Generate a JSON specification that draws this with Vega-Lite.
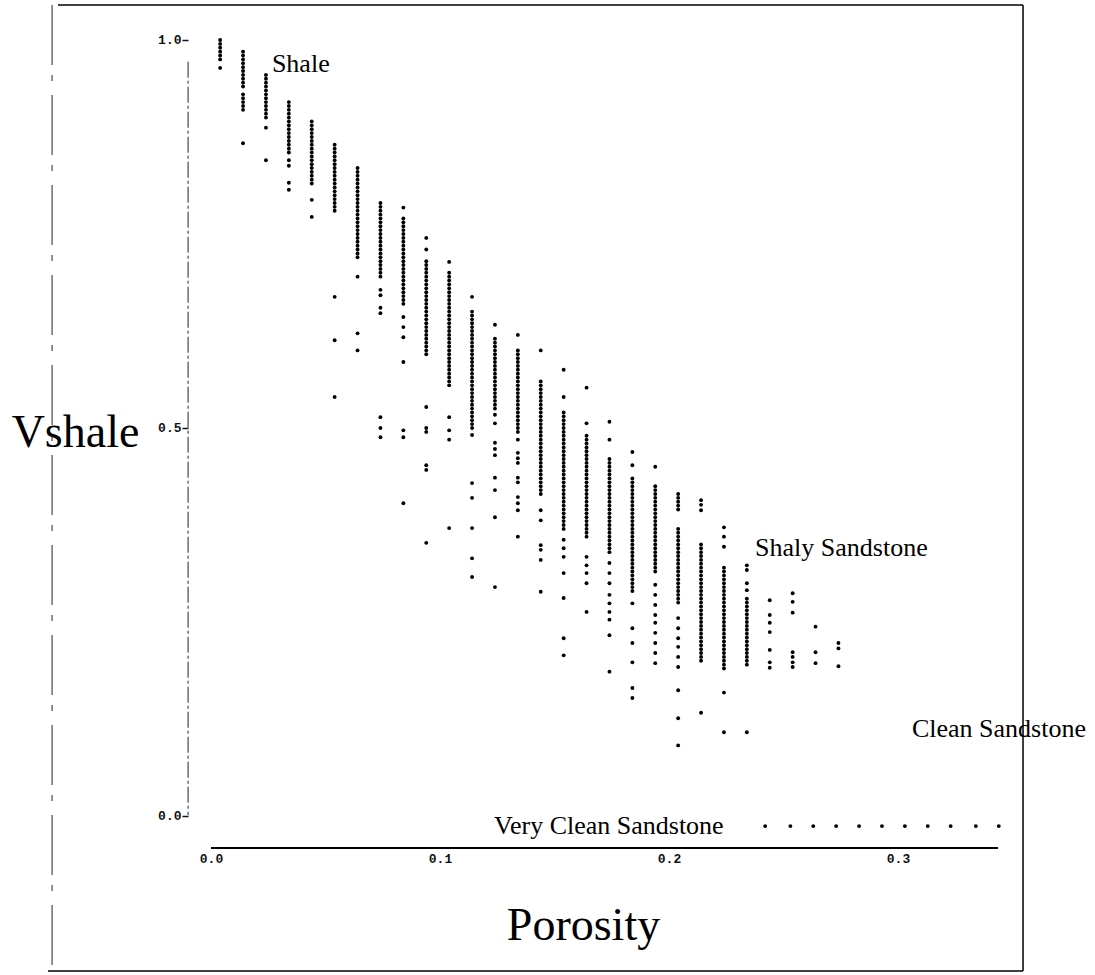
{
  "$schema": "https://vega.github.io/schema/vega-lite/v6.json",
  "width": 907,
  "height": 848,
  "autosize": {"type": "none"},
  "padding": {"left": 188, "top": 0, "right": 0, "bottom": 127},
  "background": "white",
  "config": {"view": {"stroke": null}},
  "data": {"values": [
    {"porosity":0.004,"vshale":1},{"porosity":0.004,"vshale":0.995},{"porosity":0.004,"vshale":0.99},{"porosity":0.004,"vshale":0.985},{"porosity":0.004,"vshale":0.98},{"porosity":0.004,"vshale":0.975},{"porosity":0.004,"vshale":0.964},
    {"porosity":0.014,"vshale":0.985},{"porosity":0.014,"vshale":0.98},{"porosity":0.014,"vshale":0.975},{"porosity":0.014,"vshale":0.97},{"porosity":0.014,"vshale":0.965},{"porosity":0.014,"vshale":0.96},{"porosity":0.014,"vshale":0.955},{"porosity":0.014,"vshale":0.95},{"porosity":0.014,"vshale":0.945},{"porosity":0.014,"vshale":0.94},{"porosity":0.014,"vshale":0.93},{"porosity":0.014,"vshale":0.925},{"porosity":0.014,"vshale":0.92},{"porosity":0.014,"vshale":0.915},{"porosity":0.014,"vshale":0.91},{"porosity":0.014,"vshale":0.867},
    {"porosity":0.024,"vshale":0.955},{"porosity":0.024,"vshale":0.95},{"porosity":0.024,"vshale":0.945},{"porosity":0.024,"vshale":0.94},{"porosity":0.024,"vshale":0.935},{"porosity":0.024,"vshale":0.93},{"porosity":0.024,"vshale":0.925},{"porosity":0.024,"vshale":0.92},{"porosity":0.024,"vshale":0.915},{"porosity":0.024,"vshale":0.91},{"porosity":0.024,"vshale":0.905},{"porosity":0.024,"vshale":0.9},{"porosity":0.024,"vshale":0.887},{"porosity":0.024,"vshale":0.845},
    {"porosity":0.034,"vshale":0.92},{"porosity":0.034,"vshale":0.915},{"porosity":0.034,"vshale":0.91},{"porosity":0.034,"vshale":0.905},{"porosity":0.034,"vshale":0.9},{"porosity":0.034,"vshale":0.895},{"porosity":0.034,"vshale":0.89},{"porosity":0.034,"vshale":0.885},{"porosity":0.034,"vshale":0.88},{"porosity":0.034,"vshale":0.875},{"porosity":0.034,"vshale":0.87},{"porosity":0.034,"vshale":0.865},{"porosity":0.034,"vshale":0.86},{"porosity":0.034,"vshale":0.855},{"porosity":0.034,"vshale":0.845},{"porosity":0.034,"vshale":0.838},{"porosity":0.034,"vshale":0.816},{"porosity":0.034,"vshale":0.807},
    {"porosity":0.044,"vshale":0.895},{"porosity":0.044,"vshale":0.89},{"porosity":0.044,"vshale":0.885},{"porosity":0.044,"vshale":0.88},{"porosity":0.044,"vshale":0.875},{"porosity":0.044,"vshale":0.87},{"porosity":0.044,"vshale":0.865},{"porosity":0.044,"vshale":0.86},{"porosity":0.044,"vshale":0.855},{"porosity":0.044,"vshale":0.85},{"porosity":0.044,"vshale":0.845},{"porosity":0.044,"vshale":0.84},{"porosity":0.044,"vshale":0.835},{"porosity":0.044,"vshale":0.83},{"porosity":0.044,"vshale":0.825},{"porosity":0.044,"vshale":0.82},{"porosity":0.044,"vshale":0.815},{"porosity":0.044,"vshale":0.794},{"porosity":0.044,"vshale":0.772},
    {"porosity":0.054,"vshale":0.865},{"porosity":0.054,"vshale":0.86},{"porosity":0.054,"vshale":0.855},{"porosity":0.054,"vshale":0.85},{"porosity":0.054,"vshale":0.845},{"porosity":0.054,"vshale":0.84},{"porosity":0.054,"vshale":0.835},{"porosity":0.054,"vshale":0.83},{"porosity":0.054,"vshale":0.825},{"porosity":0.054,"vshale":0.82},{"porosity":0.054,"vshale":0.815},{"porosity":0.054,"vshale":0.81},{"porosity":0.054,"vshale":0.805},{"porosity":0.054,"vshale":0.8},{"porosity":0.054,"vshale":0.795},{"porosity":0.054,"vshale":0.79},{"porosity":0.054,"vshale":0.785},{"porosity":0.054,"vshale":0.78},{"porosity":0.054,"vshale":0.669},{"porosity":0.054,"vshale":0.613},{"porosity":0.054,"vshale":0.54},
    {"porosity":0.064,"vshale":0.835},{"porosity":0.064,"vshale":0.83},{"porosity":0.064,"vshale":0.825},{"porosity":0.064,"vshale":0.82},{"porosity":0.064,"vshale":0.815},{"porosity":0.064,"vshale":0.81},{"porosity":0.064,"vshale":0.805},{"porosity":0.064,"vshale":0.8},{"porosity":0.064,"vshale":0.795},{"porosity":0.064,"vshale":0.79},{"porosity":0.064,"vshale":0.785},{"porosity":0.064,"vshale":0.78},{"porosity":0.064,"vshale":0.775},{"porosity":0.064,"vshale":0.77},{"porosity":0.064,"vshale":0.765},{"porosity":0.064,"vshale":0.76},{"porosity":0.064,"vshale":0.755},{"porosity":0.064,"vshale":0.75},{"porosity":0.064,"vshale":0.745},{"porosity":0.064,"vshale":0.74},{"porosity":0.064,"vshale":0.735},{"porosity":0.064,"vshale":0.73},{"porosity":0.064,"vshale":0.725},{"porosity":0.064,"vshale":0.72},{"porosity":0.064,"vshale":0.695},{"porosity":0.064,"vshale":0.622},{"porosity":0.064,"vshale":0.6},
    {"porosity":0.074,"vshale":0.79},{"porosity":0.074,"vshale":0.785},{"porosity":0.074,"vshale":0.78},{"porosity":0.074,"vshale":0.775},{"porosity":0.074,"vshale":0.77},{"porosity":0.074,"vshale":0.765},{"porosity":0.074,"vshale":0.76},{"porosity":0.074,"vshale":0.755},{"porosity":0.074,"vshale":0.75},{"porosity":0.074,"vshale":0.745},{"porosity":0.074,"vshale":0.74},{"porosity":0.074,"vshale":0.735},{"porosity":0.074,"vshale":0.73},{"porosity":0.074,"vshale":0.725},{"porosity":0.074,"vshale":0.72},{"porosity":0.074,"vshale":0.715},{"porosity":0.074,"vshale":0.71},{"porosity":0.074,"vshale":0.705},{"porosity":0.074,"vshale":0.7},{"porosity":0.074,"vshale":0.695},{"porosity":0.074,"vshale":0.678},{"porosity":0.074,"vshale":0.671},{"porosity":0.074,"vshale":0.655},{"porosity":0.074,"vshale":0.648},{"porosity":0.074,"vshale":0.514},{"porosity":0.074,"vshale":0.5},{"porosity":0.074,"vshale":0.488},
    {"porosity":0.084,"vshale":0.784},{"porosity":0.084,"vshale":0.77},{"porosity":0.084,"vshale":0.765},{"porosity":0.084,"vshale":0.76},{"porosity":0.084,"vshale":0.755},{"porosity":0.084,"vshale":0.75},{"porosity":0.084,"vshale":0.745},{"porosity":0.084,"vshale":0.74},{"porosity":0.084,"vshale":0.735},{"porosity":0.084,"vshale":0.73},{"porosity":0.084,"vshale":0.725},{"porosity":0.084,"vshale":0.72},{"porosity":0.084,"vshale":0.715},{"porosity":0.084,"vshale":0.71},{"porosity":0.084,"vshale":0.705},{"porosity":0.084,"vshale":0.7},{"porosity":0.084,"vshale":0.695},{"porosity":0.084,"vshale":0.69},{"porosity":0.084,"vshale":0.685},{"porosity":0.084,"vshale":0.68},{"porosity":0.084,"vshale":0.675},{"porosity":0.084,"vshale":0.67},{"porosity":0.084,"vshale":0.665},{"porosity":0.084,"vshale":0.66},{"porosity":0.084,"vshale":0.643},{"porosity":0.084,"vshale":0.63},{"porosity":0.084,"vshale":0.617},{"porosity":0.084,"vshale":0.585},{"porosity":0.084,"vshale":0.497},{"porosity":0.084,"vshale":0.488},{"porosity":0.084,"vshale":0.403},
    {"porosity":0.094,"vshale":0.745},{"porosity":0.094,"vshale":0.73},{"porosity":0.094,"vshale":0.715},{"porosity":0.094,"vshale":0.71},{"porosity":0.094,"vshale":0.705},{"porosity":0.094,"vshale":0.7},{"porosity":0.094,"vshale":0.695},{"porosity":0.094,"vshale":0.69},{"porosity":0.094,"vshale":0.685},{"porosity":0.094,"vshale":0.68},{"porosity":0.094,"vshale":0.675},{"porosity":0.094,"vshale":0.67},{"porosity":0.094,"vshale":0.665},{"porosity":0.094,"vshale":0.66},{"porosity":0.094,"vshale":0.655},{"porosity":0.094,"vshale":0.65},{"porosity":0.094,"vshale":0.645},{"porosity":0.094,"vshale":0.64},{"porosity":0.094,"vshale":0.635},{"porosity":0.094,"vshale":0.63},{"porosity":0.094,"vshale":0.625},{"porosity":0.094,"vshale":0.62},{"porosity":0.094,"vshale":0.615},{"porosity":0.094,"vshale":0.61},{"porosity":0.094,"vshale":0.605},{"porosity":0.094,"vshale":0.6},{"porosity":0.094,"vshale":0.595},{"porosity":0.094,"vshale":0.527},{"porosity":0.094,"vshale":0.5},{"porosity":0.094,"vshale":0.495},{"porosity":0.094,"vshale":0.452},{"porosity":0.094,"vshale":0.446},{"porosity":0.094,"vshale":0.352},
    {"porosity":0.104,"vshale":0.714},{"porosity":0.104,"vshale":0.7},{"porosity":0.104,"vshale":0.695},{"porosity":0.104,"vshale":0.69},{"porosity":0.104,"vshale":0.685},{"porosity":0.104,"vshale":0.68},{"porosity":0.104,"vshale":0.675},{"porosity":0.104,"vshale":0.67},{"porosity":0.104,"vshale":0.665},{"porosity":0.104,"vshale":0.66},{"porosity":0.104,"vshale":0.655},{"porosity":0.104,"vshale":0.65},{"porosity":0.104,"vshale":0.645},{"porosity":0.104,"vshale":0.64},{"porosity":0.104,"vshale":0.635},{"porosity":0.104,"vshale":0.63},{"porosity":0.104,"vshale":0.625},{"porosity":0.104,"vshale":0.62},{"porosity":0.104,"vshale":0.615},{"porosity":0.104,"vshale":0.61},{"porosity":0.104,"vshale":0.605},{"porosity":0.104,"vshale":0.6},{"porosity":0.104,"vshale":0.595},{"porosity":0.104,"vshale":0.59},{"porosity":0.104,"vshale":0.585},{"porosity":0.104,"vshale":0.58},{"porosity":0.104,"vshale":0.575},{"porosity":0.104,"vshale":0.57},{"porosity":0.104,"vshale":0.565},{"porosity":0.104,"vshale":0.56},{"porosity":0.104,"vshale":0.555},{"porosity":0.104,"vshale":0.514},{"porosity":0.104,"vshale":0.497},{"porosity":0.104,"vshale":0.485},{"porosity":0.104,"vshale":0.371},
    {"porosity":0.114,"vshale":0.669},{"porosity":0.114,"vshale":0.65},{"porosity":0.114,"vshale":0.645},{"porosity":0.114,"vshale":0.64},{"porosity":0.114,"vshale":0.635},{"porosity":0.114,"vshale":0.63},{"porosity":0.114,"vshale":0.625},{"porosity":0.114,"vshale":0.62},{"porosity":0.114,"vshale":0.615},{"porosity":0.114,"vshale":0.61},{"porosity":0.114,"vshale":0.605},{"porosity":0.114,"vshale":0.6},{"porosity":0.114,"vshale":0.595},{"porosity":0.114,"vshale":0.59},{"porosity":0.114,"vshale":0.585},{"porosity":0.114,"vshale":0.58},{"porosity":0.114,"vshale":0.575},{"porosity":0.114,"vshale":0.57},{"porosity":0.114,"vshale":0.565},{"porosity":0.114,"vshale":0.56},{"porosity":0.114,"vshale":0.555},{"porosity":0.114,"vshale":0.55},{"porosity":0.114,"vshale":0.545},{"porosity":0.114,"vshale":0.54},{"porosity":0.114,"vshale":0.535},{"porosity":0.114,"vshale":0.53},{"porosity":0.114,"vshale":0.525},{"porosity":0.114,"vshale":0.52},{"porosity":0.114,"vshale":0.515},{"porosity":0.114,"vshale":0.51},{"porosity":0.114,"vshale":0.505},{"porosity":0.114,"vshale":0.5},{"porosity":0.114,"vshale":0.491},{"porosity":0.114,"vshale":0.429},{"porosity":0.114,"vshale":0.41},{"porosity":0.114,"vshale":0.371},{"porosity":0.114,"vshale":0.332},{"porosity":0.114,"vshale":0.308},
    {"porosity":0.124,"vshale":0.633},{"porosity":0.124,"vshale":0.615},{"porosity":0.124,"vshale":0.61},{"porosity":0.124,"vshale":0.605},{"porosity":0.124,"vshale":0.6},{"porosity":0.124,"vshale":0.595},{"porosity":0.124,"vshale":0.59},{"porosity":0.124,"vshale":0.585},{"porosity":0.124,"vshale":0.58},{"porosity":0.124,"vshale":0.575},{"porosity":0.124,"vshale":0.57},{"porosity":0.124,"vshale":0.565},{"porosity":0.124,"vshale":0.56},{"porosity":0.124,"vshale":0.555},{"porosity":0.124,"vshale":0.55},{"porosity":0.124,"vshale":0.545},{"porosity":0.124,"vshale":0.54},{"porosity":0.124,"vshale":0.535},{"porosity":0.124,"vshale":0.53},{"porosity":0.124,"vshale":0.525},{"porosity":0.124,"vshale":0.517},{"porosity":0.124,"vshale":0.506},{"porosity":0.124,"vshale":0.481},{"porosity":0.124,"vshale":0.473},{"porosity":0.124,"vshale":0.465},{"porosity":0.124,"vshale":0.436},{"porosity":0.124,"vshale":0.42},{"porosity":0.124,"vshale":0.385},{"porosity":0.124,"vshale":0.295},
    {"porosity":0.134,"vshale":0.62},{"porosity":0.134,"vshale":0.6},{"porosity":0.134,"vshale":0.595},{"porosity":0.134,"vshale":0.59},{"porosity":0.134,"vshale":0.585},{"porosity":0.134,"vshale":0.58},{"porosity":0.134,"vshale":0.575},{"porosity":0.134,"vshale":0.57},{"porosity":0.134,"vshale":0.565},{"porosity":0.134,"vshale":0.56},{"porosity":0.134,"vshale":0.555},{"porosity":0.134,"vshale":0.55},{"porosity":0.134,"vshale":0.545},{"porosity":0.134,"vshale":0.54},{"porosity":0.134,"vshale":0.535},{"porosity":0.134,"vshale":0.53},{"porosity":0.134,"vshale":0.525},{"porosity":0.134,"vshale":0.52},{"porosity":0.134,"vshale":0.515},{"porosity":0.134,"vshale":0.51},{"porosity":0.134,"vshale":0.505},{"porosity":0.134,"vshale":0.5},{"porosity":0.134,"vshale":0.495},{"porosity":0.134,"vshale":0.485},{"porosity":0.134,"vshale":0.468},{"porosity":0.134,"vshale":0.461},{"porosity":0.134,"vshale":0.455},{"porosity":0.134,"vshale":0.436},{"porosity":0.134,"vshale":0.43},{"porosity":0.134,"vshale":0.411},{"porosity":0.134,"vshale":0.403},{"porosity":0.134,"vshale":0.394},{"porosity":0.134,"vshale":0.36},
    {"porosity":0.144,"vshale":0.6},{"porosity":0.144,"vshale":0.56},{"porosity":0.144,"vshale":0.555},{"porosity":0.144,"vshale":0.55},{"porosity":0.144,"vshale":0.545},{"porosity":0.144,"vshale":0.54},{"porosity":0.144,"vshale":0.535},{"porosity":0.144,"vshale":0.53},{"porosity":0.144,"vshale":0.525},{"porosity":0.144,"vshale":0.52},{"porosity":0.144,"vshale":0.515},{"porosity":0.144,"vshale":0.51},{"porosity":0.144,"vshale":0.505},{"porosity":0.144,"vshale":0.5},{"porosity":0.144,"vshale":0.495},{"porosity":0.144,"vshale":0.49},{"porosity":0.144,"vshale":0.485},{"porosity":0.144,"vshale":0.48},{"porosity":0.144,"vshale":0.475},{"porosity":0.144,"vshale":0.47},{"porosity":0.144,"vshale":0.465},{"porosity":0.144,"vshale":0.46},{"porosity":0.144,"vshale":0.455},{"porosity":0.144,"vshale":0.45},{"porosity":0.144,"vshale":0.445},{"porosity":0.144,"vshale":0.44},{"porosity":0.144,"vshale":0.435},{"porosity":0.144,"vshale":0.43},{"porosity":0.144,"vshale":0.425},{"porosity":0.144,"vshale":0.42},{"porosity":0.144,"vshale":0.415},{"porosity":0.144,"vshale":0.394},{"porosity":0.144,"vshale":0.381},{"porosity":0.144,"vshale":0.349},{"porosity":0.144,"vshale":0.343},{"porosity":0.144,"vshale":0.33},{"porosity":0.144,"vshale":0.289},
    {"porosity":0.154,"vshale":0.575},{"porosity":0.154,"vshale":0.54},{"porosity":0.154,"vshale":0.52},{"porosity":0.154,"vshale":0.515},{"porosity":0.154,"vshale":0.51},{"porosity":0.154,"vshale":0.505},{"porosity":0.154,"vshale":0.5},{"porosity":0.154,"vshale":0.495},{"porosity":0.154,"vshale":0.49},{"porosity":0.154,"vshale":0.485},{"porosity":0.154,"vshale":0.48},{"porosity":0.154,"vshale":0.475},{"porosity":0.154,"vshale":0.47},{"porosity":0.154,"vshale":0.465},{"porosity":0.154,"vshale":0.46},{"porosity":0.154,"vshale":0.455},{"porosity":0.154,"vshale":0.45},{"porosity":0.154,"vshale":0.445},{"porosity":0.154,"vshale":0.44},{"porosity":0.154,"vshale":0.435},{"porosity":0.154,"vshale":0.43},{"porosity":0.154,"vshale":0.425},{"porosity":0.154,"vshale":0.42},{"porosity":0.154,"vshale":0.415},{"porosity":0.154,"vshale":0.41},{"porosity":0.154,"vshale":0.405},{"porosity":0.154,"vshale":0.4},{"porosity":0.154,"vshale":0.395},{"porosity":0.154,"vshale":0.39},{"porosity":0.154,"vshale":0.385},{"porosity":0.154,"vshale":0.38},{"porosity":0.154,"vshale":0.375},{"porosity":0.154,"vshale":0.37},{"porosity":0.154,"vshale":0.356},{"porosity":0.154,"vshale":0.345},{"porosity":0.154,"vshale":0.334},{"porosity":0.154,"vshale":0.313},{"porosity":0.154,"vshale":0.281},{"porosity":0.154,"vshale":0.229},{"porosity":0.154,"vshale":0.207},
    {"porosity":0.164,"vshale":0.552},{"porosity":0.164,"vshale":0.506},{"porosity":0.164,"vshale":0.49},{"porosity":0.164,"vshale":0.485},{"porosity":0.164,"vshale":0.48},{"porosity":0.164,"vshale":0.475},{"porosity":0.164,"vshale":0.47},{"porosity":0.164,"vshale":0.465},{"porosity":0.164,"vshale":0.46},{"porosity":0.164,"vshale":0.455},{"porosity":0.164,"vshale":0.45},{"porosity":0.164,"vshale":0.445},{"porosity":0.164,"vshale":0.44},{"porosity":0.164,"vshale":0.435},{"porosity":0.164,"vshale":0.43},{"porosity":0.164,"vshale":0.425},{"porosity":0.164,"vshale":0.42},{"porosity":0.164,"vshale":0.415},{"porosity":0.164,"vshale":0.41},{"porosity":0.164,"vshale":0.405},{"porosity":0.164,"vshale":0.4},{"porosity":0.164,"vshale":0.395},{"porosity":0.164,"vshale":0.39},{"porosity":0.164,"vshale":0.385},{"porosity":0.164,"vshale":0.38},{"porosity":0.164,"vshale":0.375},{"porosity":0.164,"vshale":0.37},{"porosity":0.164,"vshale":0.365},{"porosity":0.164,"vshale":0.36},{"porosity":0.164,"vshale":0.334},{"porosity":0.164,"vshale":0.323},{"porosity":0.164,"vshale":0.313},{"porosity":0.164,"vshale":0.3},{"porosity":0.164,"vshale":0.263},
    {"porosity":0.174,"vshale":0.508},{"porosity":0.174,"vshale":0.485},{"porosity":0.174,"vshale":0.46},{"porosity":0.174,"vshale":0.455},{"porosity":0.174,"vshale":0.45},{"porosity":0.174,"vshale":0.445},{"porosity":0.174,"vshale":0.44},{"porosity":0.174,"vshale":0.435},{"porosity":0.174,"vshale":0.43},{"porosity":0.174,"vshale":0.425},{"porosity":0.174,"vshale":0.42},{"porosity":0.174,"vshale":0.415},{"porosity":0.174,"vshale":0.41},{"porosity":0.174,"vshale":0.405},{"porosity":0.174,"vshale":0.4},{"porosity":0.174,"vshale":0.395},{"porosity":0.174,"vshale":0.39},{"porosity":0.174,"vshale":0.385},{"porosity":0.174,"vshale":0.38},{"porosity":0.174,"vshale":0.375},{"porosity":0.174,"vshale":0.37},{"porosity":0.174,"vshale":0.365},{"porosity":0.174,"vshale":0.36},{"porosity":0.174,"vshale":0.355},{"porosity":0.174,"vshale":0.35},{"porosity":0.174,"vshale":0.345},{"porosity":0.174,"vshale":0.34},{"porosity":0.174,"vshale":0.326},{"porosity":0.174,"vshale":0.313},{"porosity":0.174,"vshale":0.3},{"porosity":0.174,"vshale":0.285},{"porosity":0.174,"vshale":0.274},{"porosity":0.174,"vshale":0.263},{"porosity":0.174,"vshale":0.253},{"porosity":0.174,"vshale":0.233},{"porosity":0.174,"vshale":0.186},
    {"porosity":0.184,"vshale":0.469},{"porosity":0.184,"vshale":0.452},{"porosity":0.184,"vshale":0.435},{"porosity":0.184,"vshale":0.43},{"porosity":0.184,"vshale":0.425},{"porosity":0.184,"vshale":0.42},{"porosity":0.184,"vshale":0.415},{"porosity":0.184,"vshale":0.41},{"porosity":0.184,"vshale":0.405},{"porosity":0.184,"vshale":0.4},{"porosity":0.184,"vshale":0.395},{"porosity":0.184,"vshale":0.39},{"porosity":0.184,"vshale":0.385},{"porosity":0.184,"vshale":0.38},{"porosity":0.184,"vshale":0.375},{"porosity":0.184,"vshale":0.37},{"porosity":0.184,"vshale":0.365},{"porosity":0.184,"vshale":0.36},{"porosity":0.184,"vshale":0.355},{"porosity":0.184,"vshale":0.35},{"porosity":0.184,"vshale":0.345},{"porosity":0.184,"vshale":0.34},{"porosity":0.184,"vshale":0.335},{"porosity":0.184,"vshale":0.33},{"porosity":0.184,"vshale":0.325},{"porosity":0.184,"vshale":0.32},{"porosity":0.184,"vshale":0.315},{"porosity":0.184,"vshale":0.31},{"porosity":0.184,"vshale":0.305},{"porosity":0.184,"vshale":0.3},{"porosity":0.184,"vshale":0.295},{"porosity":0.184,"vshale":0.29},{"porosity":0.184,"vshale":0.274},{"porosity":0.184,"vshale":0.242},{"porosity":0.184,"vshale":0.223},{"porosity":0.184,"vshale":0.198},{"porosity":0.184,"vshale":0.165},{"porosity":0.184,"vshale":0.152},
    {"porosity":0.194,"vshale":0.45},{"porosity":0.194,"vshale":0.425},{"porosity":0.194,"vshale":0.42},{"porosity":0.194,"vshale":0.415},{"porosity":0.194,"vshale":0.41},{"porosity":0.194,"vshale":0.405},{"porosity":0.194,"vshale":0.4},{"porosity":0.194,"vshale":0.395},{"porosity":0.194,"vshale":0.39},{"porosity":0.194,"vshale":0.385},{"porosity":0.194,"vshale":0.38},{"porosity":0.194,"vshale":0.375},{"porosity":0.194,"vshale":0.37},{"porosity":0.194,"vshale":0.365},{"porosity":0.194,"vshale":0.36},{"porosity":0.194,"vshale":0.355},{"porosity":0.194,"vshale":0.35},{"porosity":0.194,"vshale":0.345},{"porosity":0.194,"vshale":0.34},{"porosity":0.194,"vshale":0.335},{"porosity":0.194,"vshale":0.33},{"porosity":0.194,"vshale":0.325},{"porosity":0.194,"vshale":0.32},{"porosity":0.194,"vshale":0.315},{"porosity":0.194,"vshale":0.298},{"porosity":0.194,"vshale":0.285},{"porosity":0.194,"vshale":0.272},{"porosity":0.194,"vshale":0.259},{"porosity":0.194,"vshale":0.249},{"porosity":0.194,"vshale":0.236},{"porosity":0.194,"vshale":0.223},{"porosity":0.194,"vshale":0.21},{"porosity":0.194,"vshale":0.197},
    {"porosity":0.204,"vshale":0.415},{"porosity":0.204,"vshale":0.41},{"porosity":0.204,"vshale":0.405},{"porosity":0.204,"vshale":0.4},{"porosity":0.204,"vshale":0.395},{"porosity":0.204,"vshale":0.37},{"porosity":0.204,"vshale":0.365},{"porosity":0.204,"vshale":0.36},{"porosity":0.204,"vshale":0.355},{"porosity":0.204,"vshale":0.35},{"porosity":0.204,"vshale":0.345},{"porosity":0.204,"vshale":0.34},{"porosity":0.204,"vshale":0.335},{"porosity":0.204,"vshale":0.33},{"porosity":0.204,"vshale":0.325},{"porosity":0.204,"vshale":0.32},{"porosity":0.204,"vshale":0.315},{"porosity":0.204,"vshale":0.31},{"porosity":0.204,"vshale":0.305},{"porosity":0.204,"vshale":0.3},{"porosity":0.204,"vshale":0.295},{"porosity":0.204,"vshale":0.29},{"porosity":0.204,"vshale":0.285},{"porosity":0.204,"vshale":0.28},{"porosity":0.204,"vshale":0.275},{"porosity":0.204,"vshale":0.255},{"porosity":0.204,"vshale":0.242},{"porosity":0.204,"vshale":0.229},{"porosity":0.204,"vshale":0.218},{"porosity":0.204,"vshale":0.205},{"porosity":0.204,"vshale":0.192},{"porosity":0.204,"vshale":0.162},{"porosity":0.204,"vshale":0.126},{"porosity":0.204,"vshale":0.091},
    {"porosity":0.214,"vshale":0.407},{"porosity":0.214,"vshale":0.401},{"porosity":0.214,"vshale":0.394},{"porosity":0.214,"vshale":0.35},{"porosity":0.214,"vshale":0.345},{"porosity":0.214,"vshale":0.34},{"porosity":0.214,"vshale":0.335},{"porosity":0.214,"vshale":0.33},{"porosity":0.214,"vshale":0.325},{"porosity":0.214,"vshale":0.32},{"porosity":0.214,"vshale":0.315},{"porosity":0.214,"vshale":0.31},{"porosity":0.214,"vshale":0.305},{"porosity":0.214,"vshale":0.3},{"porosity":0.214,"vshale":0.295},{"porosity":0.214,"vshale":0.29},{"porosity":0.214,"vshale":0.285},{"porosity":0.214,"vshale":0.28},{"porosity":0.214,"vshale":0.275},{"porosity":0.214,"vshale":0.27},{"porosity":0.214,"vshale":0.265},{"porosity":0.214,"vshale":0.26},{"porosity":0.214,"vshale":0.255},{"porosity":0.214,"vshale":0.25},{"porosity":0.214,"vshale":0.245},{"porosity":0.214,"vshale":0.24},{"porosity":0.214,"vshale":0.235},{"porosity":0.214,"vshale":0.23},{"porosity":0.214,"vshale":0.225},{"porosity":0.214,"vshale":0.22},{"porosity":0.214,"vshale":0.215},{"porosity":0.214,"vshale":0.21},{"porosity":0.214,"vshale":0.205},{"porosity":0.214,"vshale":0.2},{"porosity":0.214,"vshale":0.133},
    {"porosity":0.224,"vshale":0.372},{"porosity":0.224,"vshale":0.36},{"porosity":0.224,"vshale":0.347},{"porosity":0.224,"vshale":0.32},{"porosity":0.224,"vshale":0.315},{"porosity":0.224,"vshale":0.31},{"porosity":0.224,"vshale":0.305},{"porosity":0.224,"vshale":0.3},{"porosity":0.224,"vshale":0.295},{"porosity":0.224,"vshale":0.29},{"porosity":0.224,"vshale":0.285},{"porosity":0.224,"vshale":0.28},{"porosity":0.224,"vshale":0.275},{"porosity":0.224,"vshale":0.27},{"porosity":0.224,"vshale":0.265},{"porosity":0.224,"vshale":0.26},{"porosity":0.224,"vshale":0.255},{"porosity":0.224,"vshale":0.25},{"porosity":0.224,"vshale":0.245},{"porosity":0.224,"vshale":0.24},{"porosity":0.224,"vshale":0.235},{"porosity":0.224,"vshale":0.23},{"porosity":0.224,"vshale":0.225},{"porosity":0.224,"vshale":0.22},{"porosity":0.224,"vshale":0.215},{"porosity":0.224,"vshale":0.21},{"porosity":0.224,"vshale":0.205},{"porosity":0.224,"vshale":0.2},{"porosity":0.224,"vshale":0.195},{"porosity":0.224,"vshale":0.19},{"porosity":0.224,"vshale":0.159},{"porosity":0.224,"vshale":0.108},
    {"porosity":0.234,"vshale":0.323},{"porosity":0.234,"vshale":0.317},{"porosity":0.234,"vshale":0.3},{"porosity":0.234,"vshale":0.291},{"porosity":0.234,"vshale":0.28},{"porosity":0.234,"vshale":0.275},{"porosity":0.234,"vshale":0.27},{"porosity":0.234,"vshale":0.265},{"porosity":0.234,"vshale":0.26},{"porosity":0.234,"vshale":0.255},{"porosity":0.234,"vshale":0.25},{"porosity":0.234,"vshale":0.245},{"porosity":0.234,"vshale":0.24},{"porosity":0.234,"vshale":0.235},{"porosity":0.234,"vshale":0.23},{"porosity":0.234,"vshale":0.225},{"porosity":0.234,"vshale":0.22},{"porosity":0.234,"vshale":0.215},{"porosity":0.234,"vshale":0.21},{"porosity":0.234,"vshale":0.205},{"porosity":0.234,"vshale":0.2},{"porosity":0.234,"vshale":0.195},{"porosity":0.234,"vshale":0.108},
    {"porosity":0.244,"vshale":0.278},{"porosity":0.244,"vshale":0.259},{"porosity":0.244,"vshale":0.249},{"porosity":0.244,"vshale":0.237},{"porosity":0.244,"vshale":0.214},{"porosity":0.244,"vshale":0.198},{"porosity":0.244,"vshale":0.191},
    {"porosity":0.254,"vshale":0.287},{"porosity":0.254,"vshale":0.276},{"porosity":0.254,"vshale":0.262},{"porosity":0.254,"vshale":0.211},{"porosity":0.254,"vshale":0.205},{"porosity":0.254,"vshale":0.198},{"porosity":0.254,"vshale":0.192},
    {"porosity":0.264,"vshale":0.244},{"porosity":0.264,"vshale":0.211},{"porosity":0.264,"vshale":0.197},
    {"porosity":0.274,"vshale":0.223},{"porosity":0.274,"vshale":0.216},{"porosity":0.274,"vshale":0.193},
    {"porosity":0.242,"vshale":-0.013},{"porosity":0.253,"vshale":-0.013},{"porosity":0.263,"vshale":-0.013},{"porosity":0.273,"vshale":-0.013},{"porosity":0.283,"vshale":-0.013},{"porosity":0.293,"vshale":-0.013},{"porosity":0.303,"vshale":-0.013},{"porosity":0.313,"vshale":-0.013},{"porosity":0.323,"vshale":-0.013},{"porosity":0.334,"vshale":-0.013},{"porosity":0.344,"vshale":-0.013}
  ]},
  "layer": [
    {
      "mark": {"type": "circle", "color": "#000", "size": 15, "opacity": 1},
      "encoding": {
        "x": {
          "field": "porosity",
          "type": "quantitative",
          "scale": {"domain": [-0.01004, 0.38603], "nice": false, "zero": false},
          "axis": {
            "values": [0, 0.1, 0.2, 0.3],
            "format": ".1f",
            "domain": false,
            "ticks": false,
            "grid": false,
            "labelPadding": 4,
            "labelFont": "Liberation Mono",
            "labelFontSize": 13,
            "labelFontWeight": "bold",
            "labelColor": "#111",
            "title": "Porosity",
            "titleFont": "Liberation Serif",
            "titleFontSize": 46,
            "titleFontWeight": "normal",
            "titleColor": "#000",
            "titleX": 395,
            "titleY": 77,
            "titleAlign": "center",
            "titleBaseline": "middle"
          }
        },
        "y": {
          "field": "vshale",
          "type": "quantitative",
          "scale": {"domain": [-0.04124, 1.051546], "nice": false, "zero": false},
          "axis": {
            "values": [0, 0.5, 1],
            "format": ".1f",
            "domain": false,
            "ticks": true,
            "tickSize": 6,
            "tickWidth": 1.5,
            "tickColor": "#111",
            "grid": false,
            "labelPadding": 1,
            "labelFont": "Liberation Mono",
            "labelFontSize": 13,
            "labelFontWeight": "bold",
            "labelColor": "#111",
            "title": "Vshale",
            "titleAngle": 0,
            "titleFont": "Liberation Serif",
            "titleFontSize": 46,
            "titleFontWeight": "normal",
            "titleColor": "#000",
            "titleX": -113,
            "titleY": 432,
            "titleAlign": "center",
            "titleBaseline": "middle"
          }
        }
      }
    },
    {
      "data": {"values": [{"edge": "top"}]},
      "mark": {"type": "rule", "color": "#000", "strokeWidth": 1.5},
      "encoding": {
        "x": {"datum": -0.0668, "type": "quantitative"},
        "x2": {"datum": 0.3546},
        "y": {"datum": 1.0451, "type": "quantitative"}
      }
    },
    {
      "data": {"values": [{"edge": "bottom"}]},
      "mark": {"type": "rule", "color": "#000", "strokeWidth": 1.5},
      "encoding": {
        "x": {"datum": -0.0712, "type": "quantitative"},
        "x2": {"datum": 0.3546},
        "y": {"datum": -0.1997, "type": "quantitative"}
      }
    },
    {
      "data": {"values": [{"edge": "right"}]},
      "mark": {"type": "rule", "color": "#000", "strokeWidth": 1.5},
      "encoding": {
        "x": {"datum": 0.3546, "type": "quantitative"},
        "y": {"datum": 1.0451, "type": "quantitative"},
        "y2": {"datum": -0.1997}
      }
    },
    {
      "data": {"values": [{"edge": "left"}]},
      "mark": {"type": "rule", "color": "#222", "strokeWidth": 1, "strokeDash": [60, 10, 6, 14]},
      "encoding": {
        "x": {"datum": -0.0694, "type": "quantitative"},
        "y": {"datum": 1.0451, "type": "quantitative"},
        "y2": {"datum": -0.1997}
      }
    },
    {
      "data": {"values": [{"line": "porosity axis"}]},
      "mark": {"type": "rule", "color": "#000", "strokeWidth": 2},
      "encoding": {
        "x": {"datum": 0, "type": "quantitative"},
        "x2": {"datum": 0.3437},
        "y": {"datum": -0.0412, "type": "quantitative"}
      }
    },
    {
      "data": {"values": [{"line": "vshale axis"}]},
      "mark": {"type": "rule", "color": "#222", "strokeWidth": 1, "strokeDash": [16, 3, 3, 3]},
      "encoding": {
        "x": {"datum": -0.01, "type": "quantitative"},
        "y": {"datum": 0.972, "type": "quantitative"},
        "y2": {"datum": 0.001}
      }
    },
    {
      "data": {"values": [{"label": "Shale"}]},
      "mark": {"type": "text", "align": "left", "baseline": "middle", "font": "Liberation Serif", "fontSize": 26, "color": "#000"},
      "encoding": {
        "x": {"datum": 0.0266, "type": "quantitative"},
        "y": {"datum": 0.969, "type": "quantitative"},
        "text": {"field": "label"}
      }
    },
    {
      "data": {"values": [{"label": "Shaly Sandstone"}]},
      "mark": {"type": "text", "align": "left", "baseline": "middle", "font": "Liberation Serif", "fontSize": 26, "color": "#000"},
      "encoding": {
        "x": {"datum": 0.2376, "type": "quantitative"},
        "y": {"datum": 0.3454, "type": "quantitative"},
        "text": {"field": "label"}
      }
    },
    {
      "data": {"values": [{"label": "Clean Sandstone"}]},
      "mark": {"type": "text", "align": "left", "baseline": "middle", "font": "Liberation Serif", "fontSize": 26, "color": "#000"},
      "encoding": {
        "x": {"datum": 0.3061, "type": "quantitative"},
        "y": {"datum": 0.1121, "type": "quantitative"},
        "text": {"field": "label"}
      }
    },
    {
      "data": {"values": [{"label": "Very Clean Sandstone"}]},
      "mark": {"type": "text", "align": "left", "baseline": "middle", "font": "Liberation Serif", "fontSize": 26, "color": "#000"},
      "encoding": {
        "x": {"datum": 0.1236, "type": "quantitative"},
        "y": {"datum": -0.0129, "type": "quantitative"},
        "text": {"field": "label"}
      }
    }
  ]
}
